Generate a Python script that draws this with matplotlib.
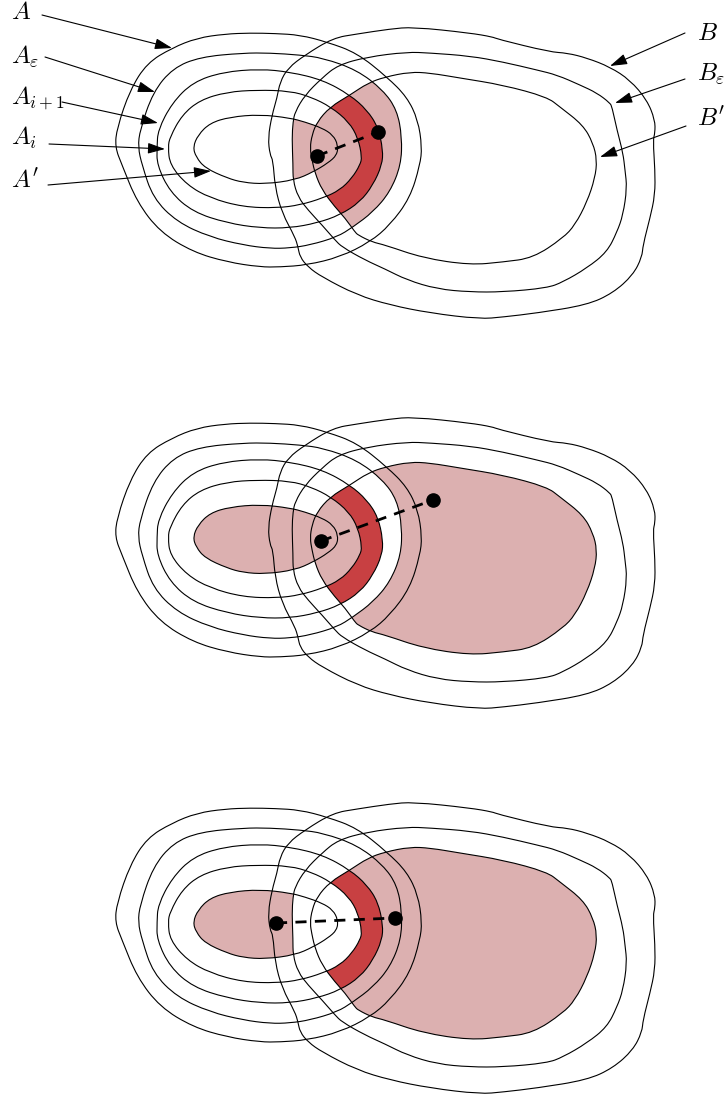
import matplotlib
matplotlib.use('Agg')
import matplotlib.pyplot as plt
from matplotlib.patches import PathPatch
from matplotlib.path import Path
import numpy as np

plt.rcParams['mathtext.fontset'] = 'cm'

# curves of the first panel, pixel coords (x right, y down)
A_out = [(115,147),(117,128),(130,90),(147,63),(172,48),(197,38),(225,34),(250,33),(275,33.5),(300,35),
         (327,42),(357,53),(387,77),(407,97),(418,120),(422,147),(420,165),(410,198),(390,225),(370,242),
         (340,257),(307,265),(280,267),(260,267),(227,262),(193,252),(160,232),(137,202),(122,165)]
A_eps = [(138,147),(140,130),(153,92),(173,68),(200,57),(243,53),(270,53),(300,55),(323,58),(357,70),
         (383,90),(397,110),(402,137),(401,165),(390,192),(373,212),(353,227),(337,237),(310,245),(290,248),
         (270,248.5),(243,245),(210,237),(177,222),(153,198),(142,165)]
A_ip1 = [(157,147),(158,130),(172,103),(193,82),(223,72),(260,69),(290,72),(323,80),(350,95),(367,110),
         (378,127),(383,150),(382,165),(373,185),(360,202),(340,215),(317,223),(290,228),(260,228),(227,223),
         (193,212),(170,192),(157,165)]
A_i = [(168,147),(170,137),(182,115),(200,100),(227,92),(257,90),(290,91),(311,97),(331,107),(349,122),
       (358,138),(362,157),(360,165),(352,178),(340,190),(323,198),(300,205),(277,208),(243,207),(210,198),
       (187,185),(170,165)]
A_pr = [(193,147),(198,135),(210,123),(230,117),(260,114.5),(290,118),(305,122),(322,128),(333,135),(338,145),
        (337,155),(328,163),(313,172),(295,180),(265,184),(243,182.5),(227,178),(205,168),(196,157)]

B_out = [(268,138),(272,115),(277,98),(280,82),(288,68),(305,55),(333,38),(357,34),(390,29),(413,27),
         (470,33),(493,37),(497,39),(550,52),(567,53),(587,58),(610,67),(630,80),(647,100),(655,120),
         (655,133),(653,140),(655,170),(655,195),(650,218),(643,245),(642,257),(633,275),(613,293),(587,305),
         (537,313),(503,317),(480,319),(430,313),(390,305),(357,295),(322,277),(308,267),(300,257),(298,247),
         (295,237),(282,213),(275,187),(273,160),(270,155)]
B_eps = [(292,138),(293,122),(295,112),(305,95),(322,78),(338,65),(367,57),(407,52),(430,53),(470,56),
         (503,62),(537,70),(557,75),(580,85),(597,93),(610,103),(612,107),(617,130),(623,153),(625,170),
         (627,188),(623,215),(617,232),(607,252),(587,268),(563,282),(547,288),(503,292),(470,292),(437,289),
         (407,280),(385,269),(365,260),(342,247),(335,240),(322,225),(308,210),(298,197),(293,180),(293,165)]
B_pr = [(310,148),(312,135),(317,122),(330,107),(350,95),(368,83),(385,77),(410,72),(430,73),(460,78),
        (503,85),(547,97),(560,107),(583,125),(593,143),(597,160),(595,178),(587,202),(575,225),(563,238),
        (533,258),(503,262),(470,265),(423,258),(385,245),(372,242),(358,235),(355,232),(345,218),(335,207),
        (322,190),(315,173),(312,160)]

panel_dy = [0, 390, 775]
dots = [[(317,156),(378,132)], [(321,541),(433,500)], [(276,923),(395,918)]]

left_labels = [r'$A$', r'$A_\varepsilon$', r'$A_{i+1}$', r'$A_i$', r"$A'$"]
left_label_xy = [(11,12),(11,56),(11,98),(11,138),(11,181)]
left_arrows = [((42,15),(172,48)), ((45,57),(155,92)), ((62,102),(158,123)), ((49,144),(165,149)), ((48,185),(211,171))]
right_labels = [r'$B$', r'$B_\varepsilon$', r"$B'$"]
right_label_xy = [(697,33),(697,74),(697,119)]
right_arrows = [((685,33),(610,66)), ((685,79),(615,103)), ((686,126),(600,157))]

pink = '#dcb0b0'
red = '#c84042'

fig = plt.figure(figsize=(7.25,10.99), dpi=100)
ax = fig.add_axes([0,0,1,1])
ax.set_xlim(0,725)
ax.set_ylim(1099,0)
ax.axis('off')

def smooth_path(pts, dy):
    # closed quadratic bezier path, vertices used as control points
    p = np.array(pts, float) + [0, dy]
    n = len(p)
    mid = (p + np.roll(p, -1, axis=0)) / 2
    verts = [mid[-1]]
    codes = [Path.MOVETO]
    for i in range(n):
        verts += [p[i], mid[i]]
        codes += [Path.CURVE3, Path.CURVE3]
    verts.append(mid[-1])
    codes.append(Path.CLOSEPOLY)
    return Path(verts, codes)

def shape(pts, dy, **kw):
    return PathPatch(smooth_path(pts, dy), **kw)

def fill(pts, dy, col, clip=None):
    p = shape(pts, dy, fc=col, ec='none', lw=0, zorder=1)
    ax.add_patch(p)
    if clip is not None:
        p.set_clip_path(shape(clip, dy, transform=ax.transData))

# panel 1
dy = panel_dy[0]
fill(A_eps, dy, pink, B_pr)
fill(A_pr, dy, pink, B_eps)
fill(A_ip1, dy, red, B_pr)
fill(A_i, dy, pink, B_pr)

# panel 2
dy = panel_dy[1]
fill(B_pr, dy, pink)
fill(A_eps, dy, 'white', B_pr)
fill(A_ip1, dy, red, B_pr)
fill(A_i, dy, pink, B_pr)
fill(A_pr, dy, pink)

# panel 3
dy = panel_dy[2]
fill(A_pr, dy, pink)
fill(B_eps, dy, 'white', A_pr)
fill(B_pr, dy, pink)
fill(A_ip1, dy, red, B_pr)
fill(A_i, dy, 'white', B_pr)

for k, dy in enumerate(panel_dy):
    for c in [A_out, A_eps, A_ip1, A_i, A_pr, B_out, B_eps, B_pr]:
        ax.add_patch(shape(c, dy, fc='none', ec='black', lw=0.8, zorder=2))
    d = np.array(dots[k])
    ax.plot(d[:,0], d[:,1], color='black', lw=2, dashes=(4,3), zorder=3)
    ax.plot(d[:,0], d[:,1], 'o', color='black', ms=9.5, zorder=4)

for t, xy in zip(left_labels, left_label_xy):
    ax.text(xy[0], xy[1], t, fontsize=18, ha='left', va='center')
for t, xy in zip(right_labels, right_label_xy):
    ax.text(xy[0], xy[1], t, fontsize=18, ha='left', va='center')
for a, b in left_arrows + right_arrows:
    ax.annotate('', xy=b, xytext=a,
                arrowprops=dict(arrowstyle='-|>,head_length=0.7,head_width=0.22', color='black',
                                lw=0.8, shrinkA=0, shrinkB=0, mutation_scale=15))

plt.savefig('out.png', dpi=100)
plt.close()
